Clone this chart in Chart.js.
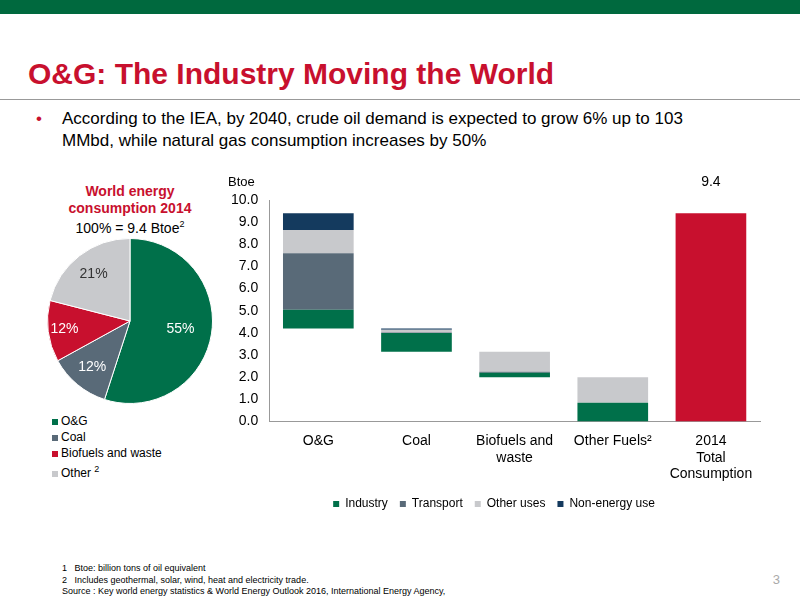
<!DOCTYPE html>
<html>
<head>
<meta charset="utf-8">
<script src="https://cdn.jsdelivr.net/npm/chart.js@4"></script>
<style>
body { margin: 0; width: 800px; height: 600px; position: relative; font-family: Arial, "Liberation Sans", sans-serif; background: #fff; overflow: hidden; }
.topbar { position: absolute; left: 0; top: 0; width: 800px; height: 14px; background: #00693e; }
.title { position: absolute; left: 28px; top: 57px; color: #c8102e; font-size: 30px; font-weight: bold; }
.rule { position: absolute; left: 0; top: 99px; width: 800px; height: 1px; background: #999; }
.bullet { position: absolute; left: 62px; top: 108px; font-size: 17px; color: #000; line-height: 22px; width: 670px; }
.bullet span { color: #c8102e; position: absolute; left: -26px; }
.pietitle { position: absolute; left: 40px; top: 183px; width: 180px; text-align: center; color: #c8102e; font-weight: bold; font-size: 14px; line-height: 17px; }
.piesub { position: absolute; left: 40px; top: 219px; width: 180px; text-align: center; font-size: 14px; }
.pielegend { position: absolute; left: 52px; top: 413px; font-size: 12px; line-height: 16px; }
.pielegend i { display: inline-block; width: 6px; height: 6px; margin-right: 3px; }
.foot { position: absolute; left: 62px; top: 563px; font-size: 9px; line-height: 11.5px; }
.page { position: absolute; right: 20px; top: 572px; color: #aaa; font-size: 13px; }
#pie { position: absolute; left: 35px; top: 236px; }
#bar { position: absolute; left: 210px; top: 165px; }
</style>
</head>
<body>
<div class="topbar"></div>
<div class="title">O&amp;G: The Industry Moving the World</div>
<div class="rule"></div>
<div class="bullet"><span>•</span>According to the IEA, by 2040, crude oil demand is expected to grow 6% up to 103 MMbd, while natural gas consumption increases by 50%</div>
<div class="pietitle">World energy<br>consumption 2014</div>
<div class="piesub">100% = 9.4 Btoe<sup style="font-size:9px">2</sup></div>
<canvas id="pie" width="180" height="170"></canvas>
<div class="pielegend">
<div><i style="background:#00704a"></i>O&amp;G</div>
<div><i style="background:#596a78"></i>Coal</div>
<div><i style="background:#c8102e"></i>Biofuels and waste</div>
<div><i style="background:#c8c9cc"></i>Other <sup style="font-size:9px">2</sup></div>
</div>
<canvas id="bar" width="560" height="355"></canvas>
<div class="foot">1&nbsp;&nbsp;&nbsp;Btoe: billion tons of oil equivalent<br>2&nbsp;&nbsp;&nbsp;Includes geothermal, solar, wind, heat and electricity trade.<br>Source : Key world energy statistics &amp; World Energy Outlook 2016, International Energy Agency,</div>
<div class="page">3</div>
<script>
const pieLabels = ["O&G", "Coal", "Biofuels and waste", "Other"];
const pieValues = [55, 12, 12, 21];
const pieColors = ["#00704a", "#596a78", "#c8102e", "#c8c9cc"];

const categories = [["O&G"], ["Coal"], ["Biofuels and", "waste"], ["Other Fuels²"], ["2014", "Total", "Consumption"]];
const baseValues = [4.2, 3.15, 2.0, 0, 0];
const industry = [0.85, 0.85, 0.2, 0.85, 0];
const transport = [2.55, 0.02, 0.05, 0, 0];
const otherUses = [1.05, 0.13, 0.9, 1.15, 0];
const nonEnergy = [0.75, 0.05, 0, 0, 0];
const totalValues = [0, 0, 0, 0, 9.4];

const pieLabelPlugin = {
    id: "pieLabels",
    afterDatasetsDraw(chart) {
        const ctx = chart.ctx;
        const meta = chart.getDatasetMeta(0);
        const offs = [0.62, 0.72, 0.8, 0.72];
        ctx.save();
        ctx.font = "14px Arial";
        ctx.textAlign = "center";
        ctx.textBaseline = "middle";
        meta.data.forEach((arc, i) => {
            const a = (arc.startAngle + arc.endAngle) / 2;
            const r = arc.outerRadius * offs[i];
            ctx.fillStyle = i === 3 ? "#333" : "#fff";
            ctx.fillText(pieValues[i] + "%", arc.x + Math.cos(a) * r, arc.y + Math.sin(a) * r);
        });
        ctx.restore();
    },
};

new Chart(document.getElementById("pie"), {
    type: "pie",
    data: {
        labels: pieLabels,
        datasets: [{ data: pieValues, backgroundColor: pieColors, borderColor: "#fff", borderWidth: 1 }],
    },
    options: {
        responsive: false,
        animation: false,
        layout: { padding: { left: 12, right: 2 } },
        plugins: { legend: { display: false }, tooltip: { enabled: false } },
    },
    plugins: [pieLabelPlugin],
});

const totalLabelPlugin = {
    id: "totalLabel",
    afterDatasetsDraw(chart) {
        const ctx = chart.ctx;
        const bar = chart.getDatasetMeta(5).data[4];
        ctx.save();
        ctx.font = "14px Arial";
        ctx.fillStyle = "#000";
        ctx.textAlign = "center";
        ctx.fillText("9.4", bar.x, chart.scales.y.top - 18);
        ctx.font = "13px Arial";
        ctx.textAlign = "left";
        ctx.fillText("Btoe", 18, chart.scales.y.top - 18);
        ctx.restore();
    },
};

new Chart(document.getElementById("bar"), {
    type: "bar",
    data: {
        labels: categories,
        datasets: [
            { label: "base", data: baseValues, backgroundColor: "rgba(0,0,0,0)" },
            { label: "Industry", data: industry, backgroundColor: "#00704a" },
            { label: "Transport", data: transport, backgroundColor: "#596a78" },
            { label: "Other uses", data: otherUses, backgroundColor: "#c8c9cc" },
            { label: "Non-energy use", data: nonEnergy, backgroundColor: "#143a5e" },
            { label: "total", data: totalValues, backgroundColor: "#c8102e" },
        ],
    },
    options: {
        responsive: false,
        animation: false,
        layout: { padding: { top: 35, right: 10, left: 18 } },
        datasets: { bar: { categoryPercentage: 1, barPercentage: 0.72 } },
        scales: {
            x: {
                stacked: true,
                grid: { display: false },
                border: { color: "#999" },
                ticks: { color: "#000", font: { size: 14, family: "Arial" }, maxRotation: 0, autoSkip: false },
            },
            y: {
                stacked: true,
                min: 0,
                max: 10,
                grid: { display: false },
                border: { color: "#999" },
                ticks: { stepSize: 1, color: "#000", font: { size: 14, family: "Arial" }, callback: (v) => v.toFixed(1) },
            },
        },
        plugins: {
            tooltip: { enabled: false },
            legend: {
                position: "bottom",
                labels: {
                    filter: (item) => item.text !== "base" && item.text !== "total",
                    boxWidth: 6,
                    boxHeight: 6,
                    color: "#000",
                    padding: 12,
                    font: { size: 12, family: "Arial" },
                },
            },
        },
    },
    plugins: [totalLabelPlugin],
});
</script>
</body>
</html>
